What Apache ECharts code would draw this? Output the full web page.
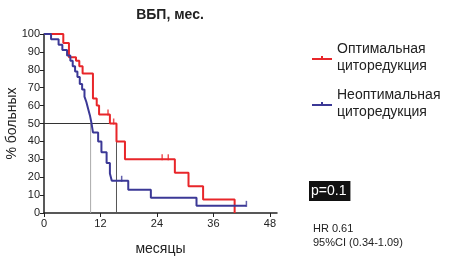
<!DOCTYPE html>
<html>
<head>
<meta charset="utf-8">
<script src="https://cdn.jsdelivr.net/npm/echarts@6/dist/echarts.min.js"></script>
<style>
  html, body { margin: 0; padding: 0; background: #fff; }
  #chart { width: 459px; height: 258px; }
</style>
</head>
<body>
<div id="chart"></div>
<script>
// ВБП (Каплан-Мейер), значения
var xTicks = [0, 12, 24, 36, 48];

// оптимальная циторедукция: [месяц, %]
var optSteps = [[0, 100], [4.1, 95], [5.3, 87], [6.8, 85], [7.5, 82], [8.2, 78], [10.4, 64], [11.2, 60],
  [11.7, 55], [14.0, 50], [15.4, 40], [17.2, 30], [27.8, 22.5], [30.7, 15], [33.8, 7.5], [40.5, 0]];
var optCensor = [[13.6, 55], [14.8, 50], [25.1, 30], [26.4, 30]];

// неоптимальная циторедукция
var nonSteps = [[0, 100], [1.5, 97], [3.1, 94], [3.9, 91], [4.9, 88], [5.6, 85], [6.1, 82], [6.6, 79],
  [7.1, 76], [7.6, 72], [8.1, 69], [8.6, 65], [9.0, 62], [9.4, 58], [9.8, 54], [10.1, 50], [10.4, 45],
  [11.5, 40], [12.2, 34], [13.3, 28], [14.0, 22], [14.4, 18], [17.9, 13], [22.7, 8.5], [32.4, 4], [43.0, 4]];
var nonCensor = [[16.5, 18], [43.0, 4]];

// медианы
var medianOpt = 15.4;
var medianNon = 9.9;

var seriesNames = ['Оптимальная циторедукция', 'Неоптимальная циторедукция'];
var colors = ['#e8262a', '#3b3896'];

var chart = echarts.init(document.getElementById('chart'));

// линия с засечкой для легенды
var legendIcon = 'path://M0,4 L20,4 L20,6 L0,6 Z M9,2 L11,2 L11,6 L9,6 Z';

function censorSeries(data, color) {
  return {
    type: 'scatter',
    symbol: 'rect',
    symbolSize: [1.5, 6],
    symbolOffset: [0, -2],
    itemStyle: { color: color },
    z: 5,
    data: data
  };
}

function refLine(data, color) {
  return {
    type: 'line',
    symbol: 'none',
    z: 2,
    lineStyle: { color: color, width: 1 },
    data: data
  };
}

var option = {
  animation: false,
  textStyle: { fontFamily: 'Liberation Sans, Arial, sans-serif' },
  title: {
    text: 'ВБП, мес.',
    left: 165,
    top: 3,
    textAlign: 'center',
    textStyle: { fontSize: 14, fontWeight: 'bold', color: '#222' }
  },
  legend: {
    orient: 'vertical',
    left: 307,
    top: 36,
    itemWidth: 20,
    itemHeight: 8,
    itemGap: 12,
    icon: legendIcon,
    data: seriesNames,
    formatter: function (name) { return name.replace(' ', '\n'); },
    textStyle: { fontSize: 14, lineHeight: 17, color: '#222' }
  },
  grid: { left: 44, top: 34, width: 233, height: 179, containLabel: false, outerBoundsMode: 'none' },
  xAxis: {
    type: 'value',
    min: 0,
    max: 49.5,
    interval: 12,
    name: 'месяцы',
    nameLocation: 'middle',
    nameGap: 29,
    nameMoveOverlap: false,
    nameTextStyle: { fontSize: 14, color: '#222' },
    splitLine: { show: false },
    axisLine: { lineStyle: { color: '#222', width: 1.5 } },
    axisTick: { length: 4, customValues: xTicks, lineStyle: { color: '#222' } },
    axisLabel: { customValues: xTicks, fontSize: 11, color: '#222', margin: 5 }
  },
  yAxis: {
    type: 'value',
    min: 0,
    max: 100,
    interval: 10,
    name: '% больных',
    nameLocation: 'middle',
    nameGap: 25,
    nameMoveOverlap: false,
    nameTextStyle: { fontSize: 14, color: '#222' },
    splitLine: { show: false },
    axisLine: { show: true, lineStyle: { color: '#222', width: 1.5 } },
    axisTick: { show: true, length: 4, lineStyle: { color: '#222' } },
    axisLabel: { fontSize: 11, color: '#222', margin: 4 }
  },
  series: [
    {
      name: seriesNames[0],
      type: 'line',
      step: 'end',
      symbol: 'none',
      z: 3,
      lineStyle: { color: colors[0], width: 2 },
      itemStyle: { color: colors[0] },
      data: optSteps
    },
    {
      name: seriesNames[1],
      type: 'line',
      step: 'end',
      symbol: 'none',
      z: 4,
      lineStyle: { color: colors[1], width: 2 },
      itemStyle: { color: colors[1] },
      data: nonSteps
    },
    censorSeries(optCensor, colors[0]),
    censorSeries(nonCensor, colors[1]),
    refLine([[0, 50], [medianOpt, 50]], '#333'),
    refLine([[medianNon, 50], [medianNon, 0]], '#aaa'),
    refLine([[medianOpt, 50], [medianOpt, 0]], '#555')
  ],
  graphic: [
    {
      type: 'text',
      left: 309,
      top: 181,
      style: {
        text: 'p=0.1',
        fontSize: 14,
        fill: '#fff',
        backgroundColor: '#111',
        padding: [3, 4, 3, 2],
        fontFamily: 'Liberation Sans, Arial, sans-serif'
      }
    },
    {
      type: 'text',
      left: 313,
      top: 222,
      style: {
        text: 'HR 0.61\n95%CI (0.34-1.09)',
        fontSize: 11,
        lineHeight: 14,
        fill: '#222',
        fontFamily: 'Liberation Sans, Arial, sans-serif'
      }
    }
  ]
};

chart.setOption(option);
</script>
</body>
</html>
